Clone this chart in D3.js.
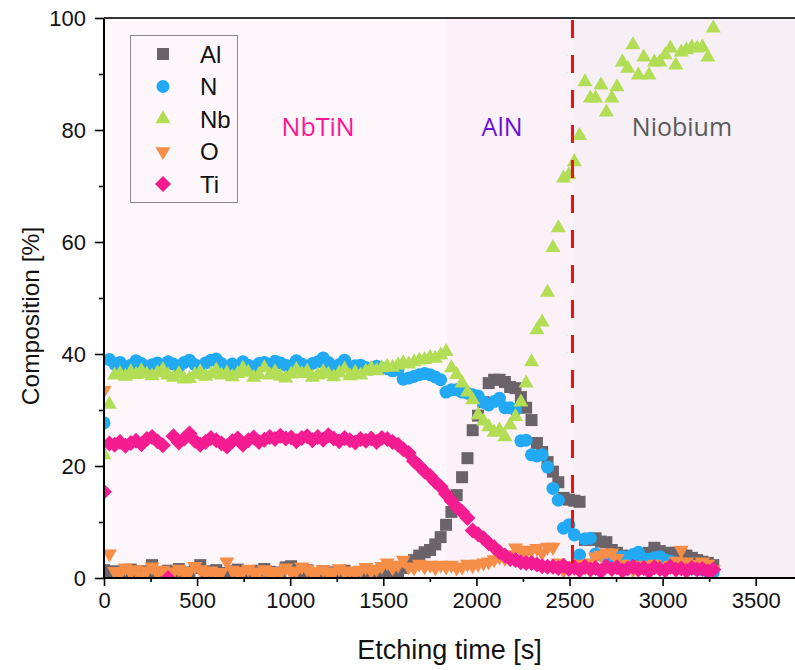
<!DOCTYPE html>
<html><head><meta charset="utf-8">
<script src="https://cdn.jsdelivr.net/npm/d3@7/dist/d3.min.js"></script>
<style>body{margin:0;background:#fff}svg{display:block}</style>
</head><body><svg id="c" width="795" height="670"></svg>
<script>
// ---------- data ----------
const times = [0,29,57,86,115,144,172,201,230,258,
287,316,344,373,402,431,459,488,517,545,
574,603,631,660,689,718,746,775,804,832,
861,890,918,947,976,1005,1033,1062,1091,1119,
1148,1177,1205,1234,1263,1292,1320,1349,1378,1406,
1435,1464,1492,1521,1550,1579,1607,1636,1665,1693,
1722,1751,1779,1808,1837,1866,1894,1923,1952,1980,
2009,2038,2066,2095,2124,2153,2181,2210,2239,2267,
2296,2325,2353,2382,2411,2440,2468,2497,2526,2554,
2583,2612,2640,2669,2698,2727,2755,2784,2813,2841,
2870,2899,2927,2956,2985,3014,3042,3071,3100,3128,
3157,3186,3214,3243,3272];

const alValues = [1.4,0.8,1.2,0.6,1.0,1.5,0.7,1.2,0.9,2.3,
1.1,0.6,1.3,0.8,1.6,1.0,0.5,1.8,2.3,1.2,
0.8,1.4,0.9,0.6,1.2,1.5,0.8,1.0,0.7,1.3,
1.6,1.1,0.6,1.0,1.9,2.1,1.2,0.8,1.4,0.5,
0.9,1.2,0.6,1.0,0.5,1.3,0.7,0.9,1.1,0.6,
1.0,0.8,1.3,0.7,1.6,1.2,1.8,2.3,3.2,4.0,
4.6,5.0,6.0,7.3,9.5,11.8,14.8,18.0,21.4,26.4,
29.0,31.4,34.8,35.4,35.4,35.0,34.1,33.9,32.3,30.4,
28.2,24.1,22.5,20.7,19.0,17.1,14.3,14.0,13.8,13.6,
6.8,6.8,7.1,6.5,6.4,5.0,4.5,4.0,3.5,3.8,
4.0,3.5,4.5,5.4,4.8,4.0,4.5,4.5,4.1,4.0,
3.6,3.2,2.9,2.7,2.3];

const nValues = [27.7,39.0,38.2,38.5,37.6,38.0,38.8,38.3,37.5,38.1,
38.4,37.9,38.6,38.2,37.7,38.5,38.9,38.1,37.8,38.4,
38.9,39.1,38.3,37.6,38.2,37.8,38.6,38.0,37.5,38.3,
38.5,37.9,38.7,38.4,38.0,37.7,38.8,38.2,37.6,38.3,
38.6,39.3,38.5,37.5,38.1,38.9,37.7,37.9,38.0,37.6,
37.3,37.8,37.5,37.4,37.0,37.2,35.5,35.7,36.0,36.3,
36.5,36.3,35.9,35.4,33.2,33.6,33.6,33.2,33.0,32.7,
32.5,31.4,30.9,31.5,32.1,30.4,30.4,30.0,24.5,24.6,
22.0,21.8,22.0,19.8,16.0,13.9,8.9,9.5,7.7,4.1,
7.0,7.1,4.3,4.1,3.8,3.5,3.8,3.8,3.6,4.2,
4.6,3.4,3.4,3.6,3.8,3.2,3.0,2.5,2.3,2.0,
1.8,1.5,1.5,1.2,1.0];

const nbValues = [22.0,31.0,36.2,36.5,36.0,36.8,36.3,37.0,36.4,36.1,
36.6,37.2,36.2,35.8,36.5,35.5,35.6,36.3,36.8,36.0,
36.4,37.1,36.2,36.6,35.9,36.5,37.4,36.7,35.8,36.3,
37.5,36.2,36.8,36.0,35.7,36.4,37.2,36.5,36.9,35.8,
36.2,36.8,36.4,35.9,36.6,37.3,36.1,36.7,36.2,36.9,
37.4,37.0,37.5,37.8,37.6,38.0,38.4,38.2,38.6,38.9,
39.0,39.4,39.2,39.8,40.4,37.5,36.3,34.8,33.2,31.8,
29.1,28.0,27.0,26.0,26.4,25.2,27.3,28.8,31.4,34.8,
38.6,44.3,45.7,51.0,59.0,62.5,71.4,72.0,74.3,79.0,
88.6,85.7,85.7,88.0,83.2,85.7,87.7,92.1,91.0,95.2,
89.8,93.0,89.8,92.1,92.1,93.4,94.6,91.6,93.9,94.3,
94.8,94.6,94.8,93.0,98.2];

const oValues = [33.5,4.3,1.2,0.8,1.8,1.0,1.5,0.6,1.3,2.0,
0.9,1.4,0.7,1.1,1.6,0.8,1.2,2.1,1.5,0.9,
1.3,0.7,1.0,2.9,1.4,0.8,1.2,1.6,0.9,1.1,
1.5,0.7,1.2,0.9,1.8,1.0,1.3,2.0,1.6,0.8,
1.2,1.5,0.9,1.1,1.7,1.0,1.3,0.9,1.4,1.9,
1.2,1.6,2.1,2.7,1.8,2.3,3.2,2.0,1.8,2.5,
2.0,2.3,1.8,2.3,2.0,2.3,1.8,2.0,2.5,2.2,
2.5,2.7,2.9,3.3,3.8,3.5,4.2,5.4,5.0,4.6,
5.0,5.3,4.5,5.5,5.5,2.7,1.4,2.2,1.8,2.5,
2.0,2.7,3.8,4.1,4.5,4.5,3.5,2.5,2.0,1.5,
2.3,1.8,2.2,2.5,1.8,2.0,2.3,3.0,5.0,2.9,
2.5,2.0,2.9,2.5,1.5];

const tiValues = [15.4,24.0,23.8,24.3,23.6,24.1,24.5,23.9,24.8,25.2,
24.4,23.7,0.0,25.3,24.2,24.9,25.8,24.5,23.8,24.3,
25.0,24.6,24.0,23.5,24.4,24.9,23.8,24.6,25.1,24.3,
24.7,25.2,24.8,25.4,24.9,25.1,24.4,25.0,25.3,24.6,
25.2,24.7,25.5,24.9,24.4,25.0,24.6,24.2,24.8,24.5,
24.9,24.3,25.0,24.8,24.3,23.8,23.0,22.3,20.9,20.0,
19.0,18.2,17.2,16.3,15.0,13.8,12.7,11.8,10.7,8.5,
7.8,7.1,6.2,5.5,4.6,4.0,3.4,3.2,2.8,2.7,
2.7,2.4,2.1,2.0,2.0,1.8,2.2,1.6,1.9,1.4,
2.0,1.5,1.8,1.2,2.1,1.6,1.9,1.3,1.7,2.0,
1.5,1.8,1.2,1.9,1.6,1.4,2.0,1.5,1.7,1.3,
1.8,1.5,1.6,1.2,1.5];

const seriesNames = ["Al","N","Nb","O","Ti"];
const xTicks = [0,500,1000,1500,2000,2500,3000,3500];
const yTicks = [0,20,40,60,80,100];
const regionEdges = [0,1842,2516,3750];
const regionNames = ["NbTiN","AlN","Niobium"];
const regionLabelTimes = [1150,2138,3104];
const regionLabelValue = 80.7;
const boundaryTime = 2516;

// ---------- drawing ----------
const svg = d3.select("#c");
const x = d3.scaleLinear().domain([0,3750]).range([104, 104+3750*0.1862]);
const y = d3.scaleLinear().domain([0,100]).range([578,18]);
const FONT = "'Liberation Sans', Arial, sans-serif";

const regionFills = ["#fdf7fc","#fcf0f9","#f6eff6"];
const regionTextColors = ["#ff1493","#6a12dc","#5a5a5a"];
svg.append("g").selectAll("rect").data(regionNames).join("rect")
  .attr("x",(d,i)=>x(regionEdges[i])).attr("y",y(100))
  .attr("width",(d,i)=>x(regionEdges[i+1])-x(regionEdges[i]))
  .attr("height",y(0)-y(100))
  .attr("fill",(d,i)=>regionFills[i]);

svg.append("g").selectAll("text").data(regionNames).join("text")
  .attr("x",(d,i)=>x(regionLabelTimes[i])).attr("y",y(regionLabelValue))
  .attr("text-anchor","middle").attr("dominant-baseline","central")
  .attr("font-family","'Open Sans', sans-serif").attr("font-size",25)
  .attr("fill",(d,i)=>regionTextColors[i]).text(d=>d);

svg.append("defs").append("clipPath").attr("id","plotclip")
  .append("rect").attr("x",x(0)).attr("y",y(100))
  .attr("width",x(3750)-x(0)).attr("height",y(0)-y(100));

const colors = {Al:"#6b636a",N:"#22a9f3",Nb:"#b2dd54",O:"#f78e47",Ti:"#f51c91"};
const valuesByName = {Al:alValues,N:nValues,Nb:nbValues,O:oValues,Ti:tiValues};
const symbolPath = {
  Al: d3.symbol(d3.symbolSquare, 144)(),
  N: d3.symbol(d3.symbolCircle, 133)(),
  Nb: d3.symbol(d3.symbolTriangle, 98)(),
  O: d3.symbol(d3.symbolTriangle, 98)(),
  Ti: d3.symbol(d3.symbolSquare, 128)()
};
const symbolRot = {Al:0,N:0,Nb:0,O:180,Ti:45};

const plot = svg.append("g").attr("clip-path","url(#plotclip)");
seriesNames.forEach(name=>{
  const vals = valuesByName[name];
  plot.append("g").selectAll("path").data(times.map((t,i)=>[t,vals[i]])).join("path")
    .attr("d",symbolPath[name])
    .attr("transform",d=>`translate(${x(d[0])},${y(d[1])}) rotate(${symbolRot[name]})`)
    .attr("fill",colors[name]);
});

// dashed boundary line
svg.append("line").attr("x1",x(boundaryTime)).attr("x2",x(boundaryTime))
  .attr("y1",y(100)).attr("y2",y(0))
  .attr("stroke","#f01010").attr("stroke-width",3)
  .attr("stroke-dasharray","18 17").attr("stroke-dashoffset",33);

// axes
const xAxis = svg.append("g").attr("transform",`translate(0,${y(0)})`)
  .call(d3.axisBottom(x).tickValues(xTicks).tickSize(8).tickPadding(6).tickFormat(d3.format("d")));
const xMinor = svg.append("g").attr("transform",`translate(0,${y(0)})`)
  .call(d3.axisBottom(x).tickValues(xTicks.map(t=>t+250)).tickSize(4).tickFormat(""));
const yAxis = svg.append("g").attr("transform",`translate(${x(0)},0)`)
  .call(d3.axisLeft(y).tickValues(yTicks).tickSize(9).tickPadding(9).tickFormat(d3.format("d")));
const yMinor = svg.append("g").attr("transform",`translate(${x(0)},0)`)
  .call(d3.axisLeft(y).tickValues(yTicks.slice(0,-1).map(v=>v+10)).tickSize(5).tickFormat(""));
[xAxis,xMinor,yAxis,yMinor].forEach(g=>{
  g.select(".domain").attr("stroke","#000").attr("stroke-width",2);
  g.selectAll(".tick line").attr("stroke","#000").attr("stroke-width",1.6);
  g.selectAll("text").attr("font-family",FONT).attr("font-size",22).attr("fill","#111");
});
xAxis.select(".domain").attr("d",`M${x(0)},0H${x(3750)}`);
xMinor.select(".domain").remove();
yMinor.select(".domain").remove();
yAxis.select(".domain").attr("d",`M0,${y(0)}V${y(100)}`);
// top frame
svg.append("line").attr("x1",x(0)).attr("x2",x(3750)).attr("y1",y(100)).attr("y2",y(100))
  .attr("stroke","#333").attr("stroke-width",2);

// axis titles
svg.append("text").attr("x",(x(0)+795)/2).attr("y",650)
  .attr("text-anchor","middle").attr("dominant-baseline","central")
  .attr("font-family",FONT).attr("font-size",27).attr("fill","#111").text("Etching time [s]");
svg.append("text").attr("transform","translate(30,316) rotate(-90)")
  .attr("text-anchor","middle").attr("dominant-baseline","central")
  .attr("font-family",FONT).attr("font-size",24.5).attr("fill","#111").text("Composition [%]");

// legend
const lg = svg.append("g");
lg.append("rect").attr("x",130.5).attr("y",35.5).attr("width",107).attr("height",167)
  .attr("fill","none").attr("stroke","#8a8a8a").attr("stroke-width",1);
seriesNames.forEach((name,i)=>{
  const cy = 54 + i*32.5;
  lg.append("path").attr("d",symbolPath[name])
    .attr("transform",`translate(163,${cy}) rotate(${symbolRot[name]})`).attr("fill",colors[name]);
  lg.append("text").attr("x",200).attr("y",cy).attr("dominant-baseline","central")
    .attr("font-family",FONT).attr("font-size",24).attr("fill","#111").text(name);
});
</script></body></html>
